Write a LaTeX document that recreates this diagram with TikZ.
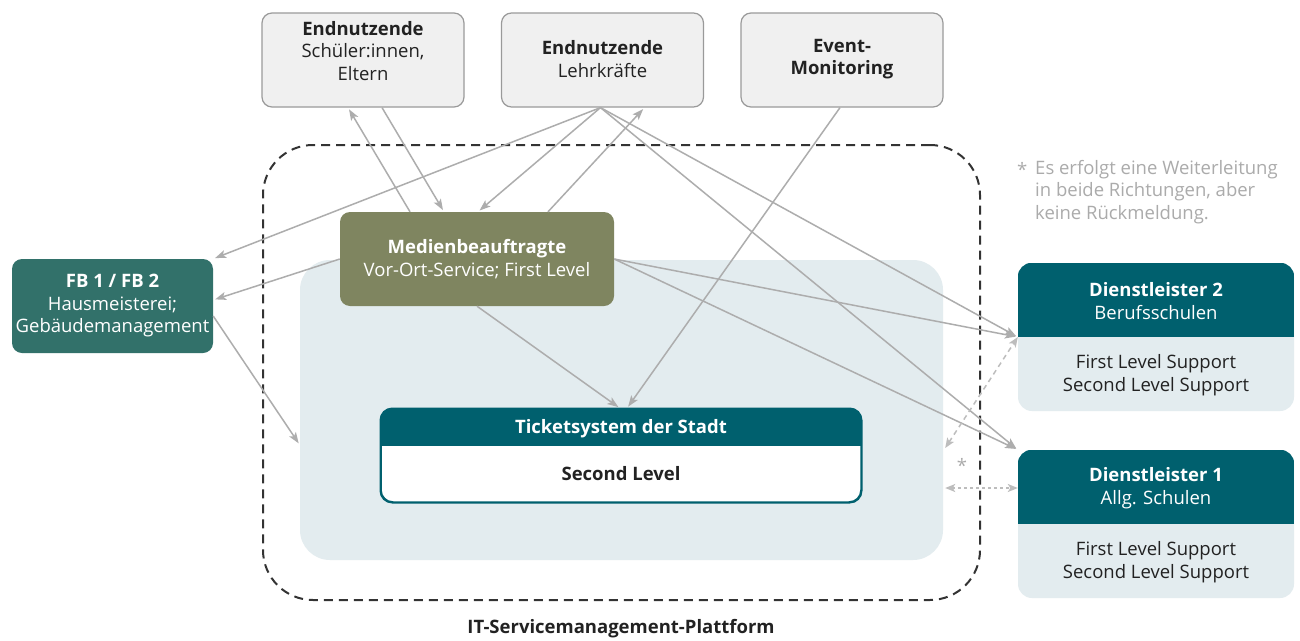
\documentclass[tikz,border=0pt]{standalone}
\usepackage{fontspec}
\setmainfont{Open Sans}
\usetikzlibrary{arrows.meta,calc}

\definecolor{boxfill}{HTML}{F0F0F0}
\definecolor{boxborder}{HTML}{9A9A9A}
\definecolor{tealdark}{HTML}{00606E}
\definecolor{fbgreen}{HTML}{32716A}
\definecolor{mbolive}{HTML}{7F8560}
\definecolor{corebg}{HTML}{E3ECEF}
\definecolor{linegray}{HTML}{ADADAD}
\definecolor{dashgray}{HTML}{BDBDBD}
\definecolor{notegray}{HTML}{ABABAB}
\definecolor{txtdark}{HTML}{222222}
\definecolor{frame}{HTML}{333333}

\begin{document}
\begin{tikzpicture}[x=1pt,y=-1pt,
  every node/.style={font=\fontsize{18.5}{22.5}\selectfont, text=txtdark},
  userbox/.style={draw=boxborder, fill=boxfill, line width=1.2pt, rounded corners=10pt,
    minimum width=202pt, minimum height=94pt, inner sep=0pt},
  colbox/.style={rounded corners=10pt, minimum width=#1, minimum height=94pt, inner sep=0pt},
  dlbox/.style={fill=corebg, rounded corners=14pt, minimum width=276pt, minimum height=148pt, inner sep=0pt},
  lbl/.style={align=center, inner sep=0pt},
  wlbl/.style={lbl, text=white},
  boldlbl/.style={font=\fontsize{18.5}{22.5}\selectfont\bfseries},
  conn/.style={draw=linegray, line width=1.5pt, -{Stealth[length=11pt,width=8pt,inset=2.5pt]}, shorten >=2pt},
  fwd/.style={draw=dashgray, line width=1.5pt,
    {Stealth[length=10pt,width=8pt,inset=2.5pt]}-{Stealth[length=10pt,width=8pt,inset=2.5pt]}}
]
\useasboundingbox (0,0) rectangle (1300,640);
\fill[white] (0,0) rectangle (1300,640);

% platform frame and inner area
\node[draw=frame, line width=2pt, dash pattern=on 9pt off 6pt, rounded corners=50pt,
  minimum width=717pt, minimum height=455pt, inner sep=0pt] (platform) at (621.5,372.5) {};
\node[fill=corebg, rounded corners=30pt, minimum width=643pt, minimum height=300pt, inner sep=0pt]
  (core) at (621.5,410) {};
\node[boldlbl] (ptitle) at (621,629) {IT-Servicemanagement-Plattform};

% end users and monitoring
\node[userbox] (schueler) at (363,60) {};
\node[lbl] (schuelertxt) at (363,51) {\textbf{Endnutzende}\\Schüler:innen,\\Eltern};
\node[userbox] (lehrer) at (602.5,60) {};
\node[lbl] (lehrertxt) at (602.5,59) {\textbf{Endnutzende}\\Lehrkräfte};
\node[userbox] (event) at (842,60) {};
\node[lbl] (eventtxt) at (842,59) {\textbf{Event-}\\\textbf{Monitoring}};

% on-site roles
\node[colbox=274pt, fill=mbolive] (medien) at (477,259) {};
\node[wlbl] (medientxt) at (477,259) {\textbf{Medienbeauftragte}\\Vor-Ort-Service; First Level};
\node[colbox=201pt, fill=fbgreen] (fb) at (112.5,306) {};
\node[wlbl] (fbtxt) at (112.5,306) {\textbf{FB 1 / FB 2}\\Hausmeisterei;\\Gebäudemanagement};

% ticket system
\node[draw=tealdark, fill=white, line width=1.5pt, rounded corners=12pt,
  minimum width=480pt, minimum height=93pt, inner sep=0pt] (ticket) at (621,455.5) {};
\begin{scope}
  \clip[rounded corners=12pt] (ticket.north west) rectangle (ticket.south east);
  \fill[tealdark] (ticket.north west) rectangle ($(ticket.north east)+(0,38)$);
\end{scope}
\draw[tealdark, line width=1.5pt, rounded corners=12pt] (ticket.north west) rectangle (ticket.south east);
\node[wlbl, boldlbl] (tickethead) at (621,428.5) {Ticketsystem der Stadt};
\node[lbl, boldlbl] (ticketbody) at (621,474) {Second Level};

% service providers
\node[dlbox] (d2) at (1156,337) {};
\begin{scope}
  \clip[rounded corners=14pt] (d2.north west) rectangle (d2.south east);
  \fill[tealdark] (d2.north west) rectangle (d2.east);
\end{scope}
\node[wlbl] (d2head) at (1156,301) {\textbf{Dienstleister 2}\\Berufsschulen};
\node[lbl] (d2body) at (1156,375) {First Level Support\\Second Level Support};

\node[dlbox] (d1) at (1156,524) {};
\begin{scope}
  \clip[rounded corners=14pt] (d1.north west) rectangle (d1.south east);
  \fill[tealdark] (d1.north west) rectangle (d1.east);
\end{scope}
\node[wlbl] (d1head) at (1156,488) {\textbf{Dienstleister 1}\\Allg. Schulen};
\node[lbl] (d1body) at (1156,562) {First Level Support\\Second Level Support};

% note
\node[lbl, text=notegray, anchor=north west] (notestar) at (1017,162) {*};
\node[lbl, text=notegray, align=left, anchor=north west] (note) at (1035,160)
  {Es erfolgt eine Weiterleitung\\in beide Richtungen, aber\\keine Rückmeldung.};

% connectors
\draw[conn] ([xshift=-67pt]medien.north) -- ([xshift=-15pt]schueler.south);
\draw[conn] ([xshift=19pt]schueler.south) -- ([xshift=-33pt]medien.north);
\draw[conn] ([xshift=-2pt]lehrer.south) -- ([xshift=1pt]medien.north);
\draw[conn] ([xshift=71pt]medien.north) -- ([xshift=42pt]lehrer.south);
\draw[conn] ([xshift=-2pt]lehrer.south) -- (fb.north east);
\draw[conn] (medien.west) -- ([yshift=6pt]fb.east);
\draw[conn] ([yshift=-10pt]fb.east) -- ([yshift=-35pt]core.west);
\draw[conn] (medien.south) -- ([xshift=-1pt]ticket.north);
\draw[conn] ([xshift=-2pt]event.south) -- ([xshift=6pt]ticket.north);
\draw[conn] ([xshift=-2pt]lehrer.south) -- (d2.west);
\draw[conn] ([xshift=-2pt]lehrer.south) -- (d1.north west);
\draw[conn] (medien.east) -- (d2.west);
\draw[conn] (medien.east) -- (d1.north west);

% forwarding without feedback
\coordinate (fwdA) at ($(core.east)+(2,38)$);
\coordinate (fwdB) at ($(core.east)+(2,78)$);
\draw[fwd, dash pattern=on 5pt off 4pt] (fwdA) -- (d2.west);
\draw[fwd, dash pattern=on 3pt off 3pt] (fwdB) -- (d1.west |- fwdB);
\node[lbl, text=notegray] (fwdstar) at (962,465) {*};
\end{tikzpicture}
\end{document}
